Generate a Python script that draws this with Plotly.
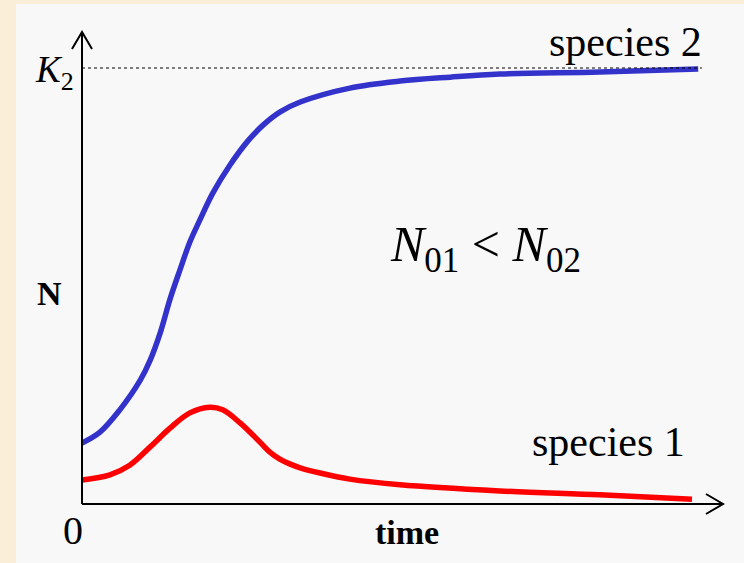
import plotly.graph_objects as go

# species 2 (blue); N in units of K2
t_sp2 = [0, 0.29, 0.61, 0.94, 1.10, 1.26, 1.42, 1.58, 1.74, 1.90, 2.11, 2.39,
         2.66, 2.92, 3.19, 3.52, 4.32, 5.13, 5.94, 6.74, 8.35, 9.94]
n_sp2 = [0.140, 0.165, 0.216, 0.284, 0.330, 0.392, 0.470, 0.537, 0.601, 0.651,
         0.713, 0.778, 0.830, 0.869, 0.899, 0.922, 0.954, 0.970, 0.979, 0.986,
         0.991, 0.998]

# species 1 (red)
t_sp1 = [0, 0.45, 0.77, 1.10, 1.42, 1.74, 2.06, 2.27, 2.55, 2.87, 3.03, 3.19,
         3.35, 3.52, 3.84, 4.32, 5.13, 6.74, 8.35, 9.84]
n_sp1 = [0.055, 0.067, 0.089, 0.131, 0.174, 0.209, 0.222, 0.216, 0.186, 0.142,
         0.119, 0.103, 0.092, 0.083, 0.071, 0.057, 0.044, 0.030, 0.021, 0.011]

K2 = 1.0
T_MAX = 10.34
N_MAX = 1.0826

W, H = 744, 563
ML, MR, MT, MB = 82, 21, 32, 59
PW, PH = W - ML - MR, H - MT - MB
FONT = "Liberation Serif, Times New Roman, serif"


def px(x):
    return (x - ML) / PW


def py(y):
    return (H - MB - y) / PH


fig = go.Figure()

fig.add_trace(go.Scatter(x=t_sp2, y=n_sp2, mode='lines', line_shape='spline',
                         line=dict(color='#3333cc', width=5.5, smoothing=1.0), name='species 2'))
fig.add_trace(go.Scatter(x=t_sp1, y=n_sp1, mode='lines', line_shape='spline',
                         line=dict(color='#ff0000', width=5.5, smoothing=1.0), name='species 1'))

# grey panel and K2 line
fig.add_shape(type='rect', xref='paper', yref='paper', x0=px(16), x1=px(W + 2),
              y0=py(H + 2), y1=py(4), fillcolor='#f8f8f8', line_width=0, layer='below')
fig.add_shape(type='line', x0=0, x1=10.0, y0=K2, y1=K2,
              line=dict(color='black', width=1.2, dash='dot'))

# axes with open arrowheads (paper refs so nothing gets clipped)
axis_line = dict(color='black', width=2)
fig.add_shape(type='line', xref='paper', yref='paper', x0=0, x1=1, y0=0, y1=0, line=axis_line)
fig.add_shape(type='line', xref='paper', yref='paper', x0=0, x1=0, y0=0, y1=1, line=axis_line)
fig.add_shape(type='path', xref='paper', yref='paper', xsizemode='pixel', ysizemode='pixel',
              xanchor=1, yanchor=0, path='M-17,10 L0,0 L-17,-10', line=axis_line)
fig.add_shape(type='path', xref='paper', yref='paper', xsizemode='pixel', ysizemode='pixel',
              xanchor=0, yanchor=1, path='M-10,-17 L0,0 L10,-17', line=axis_line)

labels = [
    ('species 2', 625, 42, 42),
    ('species 1', 608, 442, 42),
    ('<i>N</i><sub>01</sub> &lt; <i>N</i><sub>02</sub>', 485, 248, 50),
    ('<i>K</i><sub>2</sub>', 54, 72, 37),
    ('<b>N</b>', 49, 293, 34),
    ('0', 73, 530, 40),
    ('<b>time</b>', 407, 532, 34),
]
for text, x, y, size in labels:
    fig.add_annotation(xref='paper', yref='paper', x=px(x), y=py(y), text=text,
                       showarrow=False, xanchor='center', yanchor='middle',
                       font=dict(family=FONT, size=size, color='black'))

fig.update_layout(
    width=W, height=H,
    margin=dict(l=ML, r=MR, t=MT, b=MB),
    paper_bgcolor='#fbeed8',
    plot_bgcolor='rgba(0,0,0,0)',
    showlegend=False,
    xaxis=dict(range=[0, T_MAX], visible=False),
    yaxis=dict(range=[0, N_MAX], visible=False),
)

fig.write_html("out.html", config={'displayModeBar': False},
               post_script="document.body.style.margin='0px';")
